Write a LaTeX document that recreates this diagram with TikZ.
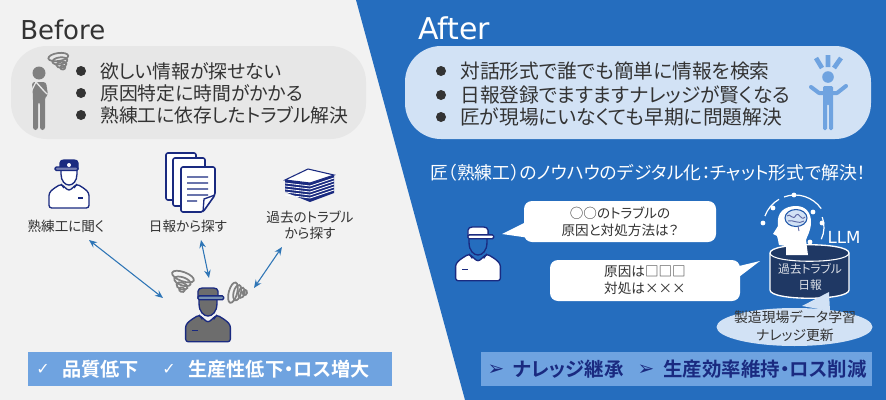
\documentclass[tikz,border=0pt]{standalone}
\usepackage{fontspec}
\setmainfont{Noto Sans CJK JP}[RawFeature=+palt]
\newfontfamily\latinfont{DejaVu Sans}
\newfontfamily\jpb{Noto Sans CJK JP}[BoldFont={Noto Sans CJK JP Bold},RawFeature=+palt]
\usetikzlibrary{arrows.meta}
\definecolor{bgl}{HTML}{F2F2F2}
\definecolor{bgb}{HTML}{256DBE}
\definecolor{pilll}{HTML}{E7E7E7}
\definecolor{pillr}{HTML}{D2E2F5}
\definecolor{bannerc}{HTML}{6FA3E0}
\definecolor{navy}{HTML}{1A2A80}
\definecolor{darkcyl}{HTML}{1F3864}
\definecolor{txt}{HTML}{333333}
\definecolor{graym}{HTML}{808080}
\definecolor{arrowc}{HTML}{2E75B6}
\tikzset{
  x=0.75pt,y=-0.75pt,
  pill/.style={rounded corners=27pt,draw=none},
  bullettext/.style={anchor=west,inner sep=0pt,text=txt},
  bubble/.style={fill=white,draw=none,rounded corners=6pt,align=center,text=txt,inner sep=0pt},
  caption/.style={align=center,text=txt,inner sep=0pt,font=\fontsize{10.2}{12}\selectfont},
  dbl/.style={draw=arrowc,line width=0.8pt,{Stealth[length=6pt,width=5pt,inset=2pt]}-{Stealth[length=6pt,width=5pt,inset=2pt]}},
}
% x y xscale yscale hat brim face body line
\newcommand{\workericon}[9]{%
\begin{scope}[shift={(#1,#2)},xscale=#3,yscale=#4,draw=#9,line width=1pt,line join=round]
 \draw[fill=#8,rounded corners=2pt] (-20,48) -- (-20,33) -- (-16,29) -- (-8,24) -- (0,31) -- (8,24) -- (16,29) -- (20,33) -- (20,48) -- cycle;
 \draw[fill=#7] (-8,8) -- (-8,14) .. controls (-8,21) and (-4,25) .. (0,25) .. controls (4,25) and (8,21) .. (8,14) -- (8,8) -- cycle;
 \draw (-8,24) -- (-5,28) (8,24) -- (5,28);
 \draw[fill=#5] (-9,9) -- (-9,3) .. controls (-9,1) and (-7,0) .. (-5,0) -- (5,0) .. controls (7,0) and (9,1) .. (9,3) -- (9,9) -- cycle;
 \draw[fill=#6,rounded corners=1pt] (-14,7) rectangle (9,10.5);
 \draw[line width=1.2pt] (9,38) -- (14,38);
\end{scope}}
% x y rotate scale
\newcommand{\swirlicon}[4]{%
\begin{scope}[shift={(#1,#2)},rotate=#3,scale=#4,draw=graym,line width=1.3pt]
 \draw (0,-5) ellipse [x radius=10,y radius=4];
 \draw (1,-1) ellipse [x radius=7.5,y radius=3.5];
 \draw (2,3) ellipse [x radius=5,y radius=3];
 \draw (3,6) ellipse [x radius=2.5,y radius=2];
\end{scope}}
\begin{document}
\begin{tikzpicture}
\useasboundingbox (0,0) rectangle (886,400);
% backgrounds
\fill[bgl] (0,0) rectangle (886,400);
\fill[bgb] (356,0) -- (886,0) -- (886,400) -- (465,400) -- cycle;
% titles
\node[anchor=west,inner sep=0pt,text=txt,font=\latinfont\fontsize{19.5}{22}\selectfont] (tb) at (20,30) {Before};
\node[anchor=west,inner sep=0pt,text=white,font=\latinfont\fontsize{22.5}{26}\selectfont] (ta) at (418,28) {After};
% pills
\fill[pilll,pill] (11,46) rectangle (366,139);
\fill[pillr,pill] (405,46) rectangle (871,139);
% before bullets
\foreach \yy/\tt/\nn in {71/欲しい情報が探せない/l1,93/原因特定に時間がかかる/l2,115/熟練工に依存したトラブル解決/l3}{
  \fill[txt] (81,\yy) circle (5);
  \node[bullettext,font=\fontsize{14.1}{16}\selectfont] (\nn) at (100,\yy) {\tt};
}
% after bullets
\foreach \yy/\tt/\nn in {71/対話形式で誰でも簡単に情報を検索/r1,95/日報登録でますますナレッジが賢くなる/r2,117/匠が現場にいなくても早期に問題解決/r3}{
  \fill[txt] (441,\yy) circle (5);
  \node[bullettext,font=\fontsize{14.8}{17}\selectfont] (\nn) at (460,\yy) {\tt};
}
% gray person
\begin{scope}[fill=graym,draw=graym]
 \fill (39,73) circle (6.5);
 \fill[rounded corners=2pt] (32,82) -- (46,82) -- (48,95) -- (45,97) -- (45,130) -- (40,130) -- (40,102) -- (38,102) -- (38,130) -- (33,130) -- (33,97) -- cycle;
 \draw[pilll,line width=1pt] (31,92) -- (36,82) -- (44,91) -- (47,94);
\end{scope}
\swirlicon{59}{62}{8}{1}
% blue person
\begin{scope}[fill=bannerc,draw=bannerc]
 \fill (828,77) circle (5.8);
 \fill[rounded corners=1pt] (823,86) -- (833,86) -- (833,130) -- (829,130) -- (829,104) -- (827,104) -- (827,130) -- (823,130) -- cycle;
 \draw[line width=3pt,line cap=round,line join=round] (811,87) -- (819,93) -- (837,93) -- (846,86);
 \draw[line width=3.5pt] (816,58) -- (822,68) (828,55) -- (828,67) (841,58) -- (834,68);
\end{scope}
% left icons
\workericon{69}{160}{1}{1}{navy}{navy!60}{white}{white}{navy}
\fill[white] (69,165) circle (2);
% documents
\begin{scope}[draw=navy,line width=1.2pt,fill=white,rounded corners=1.5pt]
 \draw[fill=white] (166,153) rectangle (196,200);
 \draw[fill=white] (173,158) rectangle (205,206);
 \draw[fill=white] (181,167) -- (215,167) -- (215,195) -- (203,212) -- (181,212) -- cycle;
\end{scope}
\draw[navy,line width=1pt] (187,177) -- (208,177) (187,183) -- (208,183) (187,189) -- (208,189) (187,195) -- (208,195) (187,201) -- (197,201) (215,195) -- (204,199) -- (203,212);
% paper stack
\fill[navy] (285,180) -- (310,183) -- (334,175) -- (334,193) -- (310,202) -- (285,192) -- cycle;
\fill[white,draw=navy,line width=0.8pt] (285,180) -- (308,169) -- (334,175) -- (310,183) -- cycle;
\foreach \dd in {3,6,9,12,15}{
  \draw[white,line width=0.6pt] (285,180+\dd) -- (310,183+\dd) -- (334,175+\dd);
}
% captions
\node[caption] (c1) at (66,226) {熟練工に聞く};
\node[caption] (c2) at (188,226) {日報から探す};
\node[caption] (c3) at (310,225) {過去のトラブル\\から探す};
% bottom worker
\workericon{208}{288}{-1.12}{1.12}{graym!85!black}{bannerc!50!graym}{graym!85!black}{graym!85!black}{navy}
\swirlicon{181}{282}{-20}{1.15}
\swirlicon{238}{294}{75}{1.05}
\coordinate (w1) at (163,298);
\coordinate (w2) at (209,278);
\coordinate (w3) at (254,288);
\coordinate (a1) at (89,240);
\coordinate (a2) at (201,240);
\coordinate (a3) at (282,247);
\draw[dbl] (a1) -- (w1);
\draw[dbl] (a2) -- (w2);
\draw[dbl] (a3) -- (w3);
% banners
\fill[bannerc] (28,352) rectangle (392,386);
\fill[bannerc] (481,352) rectangle (872,386);
\node[inner sep=0pt,text=white,font=\latinfont\fontsize{12}{14}\selectfont] (ck1) at (43,369) {✓};
\node[anchor=west,inner sep=0pt,text=white,font=\jpb\bfseries\fontsize{14.4}{17}\selectfont] (bl1) at (62,369) {品質低下};
\node[inner sep=0pt,text=white,font=\latinfont\fontsize{12}{14}\selectfont] (ck2) at (169,369) {✓};
\node[anchor=west,inner sep=0pt,text=white,font=\jpb\bfseries\fontsize{14.4}{17}\selectfont] (bl2) at (188,369) {生産性低下・ロス増大};
\node[inner sep=0pt,text=navy,font=\latinfont\fontsize{15}{17}\selectfont] (ar1) at (496,370) {➢};
\node[anchor=west,inner sep=0pt,text=navy,font=\jpb\bfseries\fontsize{14.6}{17}\selectfont] (br1) at (513,369) {ナレッジ継承};
\node[inner sep=0pt,text=navy,font=\latinfont\fontsize{15}{17}\selectfont] (ar2) at (646,370) {➢};
\node[anchor=west,inner sep=0pt,text=navy,font=\jpb\bfseries\fontsize{14.6}{17}\selectfont] (br2) at (663,369) {生産効率維持・ロス削減};
% subtitle
\node[anchor=west,inner sep=0pt,text=white,font=\fontsize{13.4}{15}\selectfont] (st) at (430,173) {匠（熟練工）のノウハウのデジタル化：チャット形式で解決！};
% right worker
\workericon{478}{227}{-1.12}{1.12}{white}{white}{bgb}{white}{navy}
% bubbles
\fill[white] (526,222) -- (502,234) -- (530,238) -- cycle;
\node[bubble,minimum width=144pt,minimum height=30.75pt,font=\fontsize{10.2}{12.75}\selectfont] (b1) at (620,221.5) {○○のトラブルの\\原因と対処方法は？};
\fill[white] (735,267) -- (760,261) -- (735,280) -- cycle;
\node[bubble,minimum width=142.5pt,minimum height=30.75pt,font=\fontsize{10.2}{12.75}\selectfont] (b2) at (645,280.5) {原因は□□□\\対処は×××};
% cylinder
\draw[fill=darkcyl,draw=white,line width=1pt] (770,253) -- (770,290) .. controls (770,301) and (849,301) .. (849,290) -- (849,253) .. controls (849,242) and (770,242) .. (770,253) -- cycle;
\draw[white,line width=0.8pt] (770,253) .. controls (770,264) and (849,264) .. (849,253);
% head
\fill[white] (786,255) -- (786,246) -- (779,245) .. controls (778,241) and (778,238) .. (777,236) -- (773,234) -- (778,226) .. controls (776,212) and (785,206) .. (796,206) .. controls (806,206) and (811,213) .. (811,222) .. controls (811,231) and (807,236) .. (806,240) -- (808,255) -- cycle;
\draw[bgb!70!navy,line width=0.8pt,fill=pillr] (796,218) ellipse [x radius=11,y radius=8.5];
\draw[navy!70,line width=0.7pt] (787,216) .. controls (790,212) and (793,222) .. (796,215) .. controls (799,211) and (801,222) .. (805,217) (788,221) .. controls (792,219) and (799,225) .. (804,221) (798,226) -- (799,231);
% orbit
\draw[white,line width=0.9pt] (795,227) ++(200:32) arc[start angle=200,end angle=240,radius=32];
\draw[white,line width=0.9pt] (795,227) ++(250:32) arc[start angle=250,end angle=325,radius=32];
\draw[white,line width=0.9pt] (795,227) ++(-20:29) arc[start angle=-20,end angle=25,radius=29];
\foreach \pp in {(794,195),(813,212),(822,223),(810,242),(763,223),(773,208)}{\fill[white] \pp circle (2.4);}
\node[inner sep=0pt,text=white,font=\latinfont\fontsize{12.5}{15}\selectfont] (llm) at (844,237) {LLM};
\node[inner sep=0pt,align=center,text=white!85!darkcyl,font=\fontsize{8.8}{12}\selectfont] (cy) at (810,277) {過去トラブル\\日報};
% ellipse callout
\fill[pillr] (802,306) -- (829,292) -- (830,311) -- cycle;
\fill[pillr] (794.5,327) ellipse [x radius=78,y radius=19];
\node[inner sep=0pt,align=center,text=txt,font=\fontsize{10.4}{13.2}\selectfont] (ec) at (795,326) {製造現場データ学習\\ナレッジ更新};
\end{tikzpicture}
\end{document}
